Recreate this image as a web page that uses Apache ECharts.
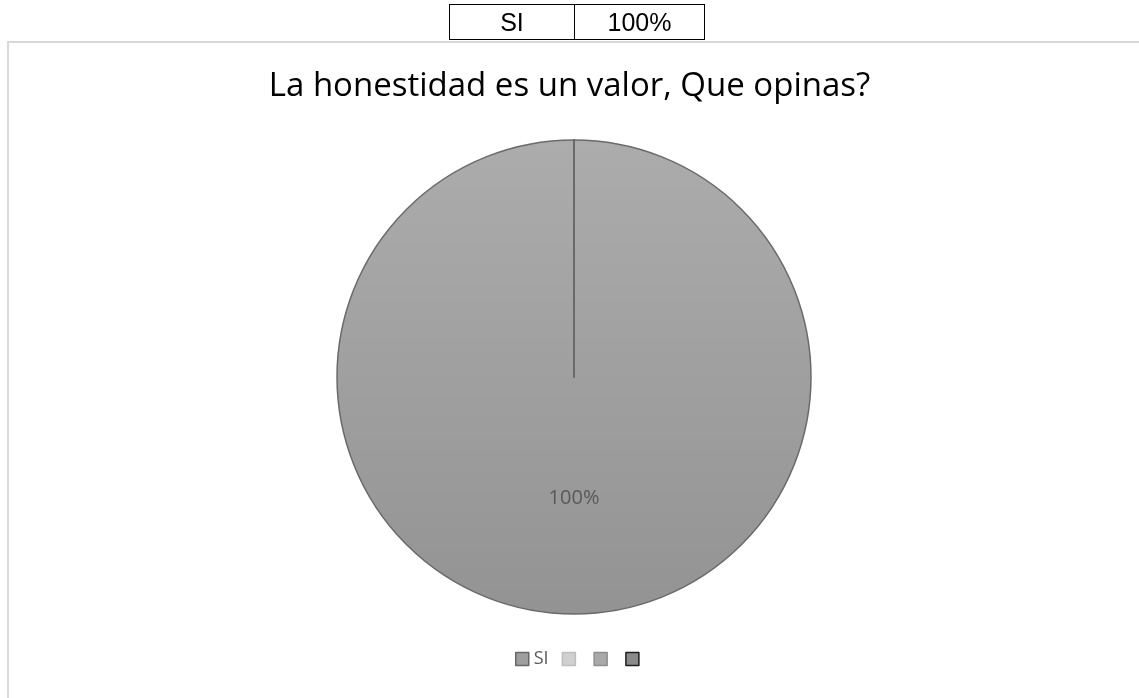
<!DOCTYPE html>
<html>
<head>
<meta charset="utf-8">
<script src="https://cdn.jsdelivr.net/npm/echarts@6/dist/echarts.min.js"></script>
<style>
  html, body { margin: 0; padding: 0; background: #fff; }
  #wrap { position: relative; width: 1139px; height: 698px; overflow: hidden; }
  #frame { position: absolute; left: 7px; top: 41px; width: 1140px; height: 670px;
           border-left: 2px solid #d9d9d9; border-top: 2px solid #d9d9d9; }
  #main { position: absolute; left: 0; top: 0; width: 1139px; height: 698px; }
  #tbl { position: absolute; left: 449px; top: 4px; border-collapse: collapse;
         font-family: "Liberation Sans", Arial, sans-serif; font-size: 25px; color: #000; }
  #tbl td { border: 1.5px solid #000; height: 34px; padding: 0; text-align: center; line-height: 34px; }
</style>
</head>
<body>
<div id="wrap">
  <div id="frame"></div>
  <div id="main"></div>
  <table id="tbl"><tr></tr></table>
</div>
<script>
// datos
const titulo = "La honestidad es un valor, Que opinas?";
// las tres categorias sin nombre van con espacios de ancho cero
const categorias = ["SI", "\u200b", "\u200b\u200b", "\u200b\u200b\u200b"];
const valores = [100, 0, 0, 0];
const colores = ["#9e9e9e", "#d0d0d0", "#a9a9a9", "#8a8a8a"];
const bordes = ["#676767", "#bdbdbd", "#8e8e8e", "#1e1e1e"];
const tablaFila = ["SI", "100%"];

// tabla de arriba
const tr = document.querySelector("#tbl tr");
const anchos = [124, 129];
tablaFila.forEach((t, i) => {
  const td = document.createElement("td");
  td.textContent = t;
  td.style.width = anchos[i] + "px";
  tr.appendChild(td);
});

const myChart = echarts.init(document.getElementById("main"));

const pieData = categorias.map((c, i) => {
  const item = {
    name: c,
    value: valores[i],
    itemStyle: {
      color: colores[i],
      borderColor: "#6a6a6a"
    }
  };
  if (i === 0) {
    // relleno con degradado, mas claro arriba
    item.itemStyle.color = new echarts.graphic.LinearGradient(0, 0, 0, 1, [
      { offset: 0, color: "#acacac" },
      { offset: 1, color: "#939393" }
    ]);
  } else {
    item.label = { show: false };
  }
  return item;
});

const option = {
  animation: false,
  title: {
    text: titulo,
    left: "center",
    top: 65,
    textStyle: {
      fontFamily: "Open Sans",
      fontWeight: "normal",
      fontSize: 33,
      color: "#000"
    }
  },
  legend: {
    bottom: 25,
    left: 510,
    icon: "rect",
    itemWidth: 13,
    itemHeight: 13,
    itemGap: 13,
    selectedMode: false,
    data: categorias.map((c, i) => ({
      name: c,
      itemStyle: { color: colores[i], borderColor: bordes[i], borderWidth: 1.5 }
    })),
    textStyle: {
      fontFamily: "Open Sans",
      fontSize: 18,
      color: "#595959"
    }
  },
  series: [
    {
      type: "pie",
      center: [574, 377],
      radius: 237,
      startAngle: 90,
      clockwise: true,
      avoidLabelOverlap: false,
      data: pieData,
      itemStyle: {
        borderWidth: 1.5
      },
      label: {
        show: true,
        position: "inside",
        formatter: "{d}%",
        fontFamily: "Open Sans",
        fontSize: 20,
        color: "#595959"
      },
      labelLine: { show: false },
      emphasis: { disabled: true }
    }
  ]
};

myChart.setOption(option);
</script>
</body>
</html>
